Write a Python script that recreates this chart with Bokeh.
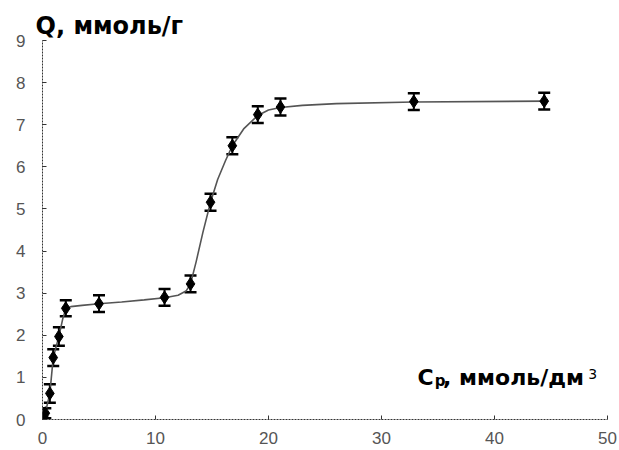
from bokeh.plotting import figure
from bokeh.models import Whisker, TeeHead, ColumnDataSource, Label, Range1d
from bokeh.embed import file_html
from bokeh.resources import INLINE

# measured points (equilibrium concentration, sorption capacity, error)
c_eq = [0.0, 0.25, 0.65, 0.95, 1.45, 2.06, 5.0, 10.8, 13.1, 14.87, 16.8, 19.05, 21.06, 32.86, 44.4]
q_val = [0.0, 0.15, 0.62, 1.47, 1.97, 2.64, 2.75, 2.9, 3.22, 5.16, 6.5, 7.24, 7.42, 7.55, 7.56]
q_err = [0.05, 0.12, 0.22, 0.2, 0.22, 0.19, 0.2, 0.2, 0.2, 0.2, 0.2, 0.2, 0.2, 0.2, 0.2]

# fitted curve
curve_c = [0.0, 0.25, 0.65, 0.95, 1.45, 1.8, 2.06, 2.5, 3.5, 5.0, 7.0, 9.0, 10.8, 12.0, 12.7,
           13.1, 13.6, 14.2, 14.87, 15.5, 16.2, 16.8, 17.8, 19.05, 20.0, 21.06, 23.0, 26.0, 32.86, 44.4]
curve_q = [0.0, 0.15, 0.62, 1.47, 1.97, 2.4, 2.62, 2.68, 2.71, 2.75, 2.79, 2.84, 2.89, 2.95, 3.05,
           3.22, 3.75, 4.45, 5.16, 5.7, 6.15, 6.5, 6.9, 7.22, 7.35, 7.41, 7.46, 7.5, 7.54, 7.56]

x_ticks = [0, 10, 20, 30, 40, 50]
y_ticks = [0, 1, 2, 3, 4, 5, 6, 7, 8, 9]

y_title = "Q, ммоль/г"
x_title_main = "C"
x_title_sub = "р"
x_title_rest = ", ммоль/дм"
x_title_sup = "3"

p = figure(width=619, height=450, output_backend="svg", toolbar_location=None,
           x_range=Range1d(0, 50), y_range=Range1d(0, 9),
           min_border_left=42, min_border_right=12, min_border_top=40, min_border_bottom=31,
           title=y_title)
p.outline_line_color = None
p.xgrid.visible = False
p.ygrid.visible = False
p.background_fill_color = "white"
p.border_fill_color = "white"

p.title.text_font = "DejaVu Sans"
p.title.text_font_style = "bold"
p.title.text_font_size = "24px"
p.title.text_color = "black"
p.title.align = "left"
p.title.offset = -7
p.title.standoff = 2

for ax in (p.xaxis[0], p.yaxis[0]):
    ax.axis_line_color = "#333333"
    ax.axis_line_width = 1
    ax.axis_line_dash = "2 1"
    ax.major_tick_in = 4
    ax.major_tick_out = 0
    ax.minor_tick_line_color = None
    ax.major_tick_line_color = "#333333"
    ax.major_label_text_font = "Liberation Sans"
    ax.major_label_text_font_size = "17px"
    ax.major_label_text_color = "#555555"
    ax.major_label_text_font_style = "normal"

p.xaxis.ticker = x_ticks
p.yaxis.ticker = y_ticks
p.xaxis.major_label_standoff = 12
p.yaxis.major_label_standoff = 17

src = ColumnDataSource(dict(
    x=c_eq, y=q_val,
    upper=[v + e for v, e in zip(q_val, q_err)],
    lower=[v - e for v, e in zip(q_val, q_err)],
))

p.line(curve_c, curve_q, line_color="#555555", line_width=1.6)

w = Whisker(source=src, base="x", upper="upper", lower="lower", dimension="height",
            line_color="black", line_width=2,
            upper_head=TeeHead(size=12, line_width=2.5, line_color="black"),
            lower_head=TeeHead(size=12, line_width=2.5, line_color="black"))
p.add_layout(w)

p.scatter("x", "y", source=src, marker="diamond", size=13, color="black")

common = dict(text_font="DejaVu Sans", text_color="black",
              text_baseline="alphabetic", text_align="left")

p.add_layout(Label(x=33.19, y=1.0, text=x_title_main, text_font_size="22px",
                   text_font_style="bold", **common))
p.add_layout(Label(x=34.72, y=0.92, text=x_title_sub, text_font_size="15px",
                   text_font_style="bold", **common))
p.add_layout(Label(x=35.45, y=1.0, text=x_title_rest, text_font_size="22px",
                   text_font_style="bold", **common))
p.add_layout(Label(x=48.3, y=1.09, text=x_title_sup, text_font_size="14px",
                   text_font_style="normal", **common))

open("out.html", "w").write(file_html(p, INLINE))
